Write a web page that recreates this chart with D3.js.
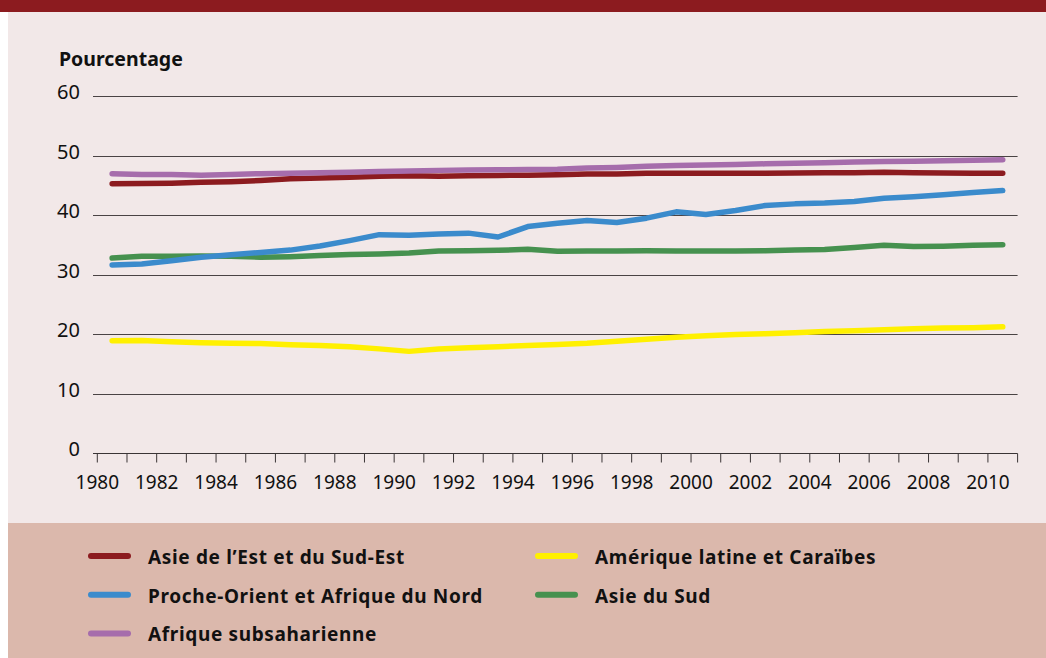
<!DOCTYPE html>
<html>
<head>
<meta charset="utf-8">
<script src="https://cdn.jsdelivr.net/npm/d3@7"></script>
<style>
  html, body { margin: 0; padding: 0; background: #ffffff; }
  svg { display: block; }
</style>
</head>
<body>
<svg id="chart"></svg>
<script>
const years = d3.range(1980, 2011);
const yTicks = [0, 10, 20, 30, 40, 50, 60];

const eastAsia = [45.26, 45.3, 45.35, 45.5, 45.6, 45.8, 46.1, 46.2, 46.35, 46.5, 46.6, 46.5, 46.6, 46.65, 46.7, 46.75,
  46.9, 46.9, 47.0, 47.0, 47.0, 47.0, 47.0, 47.05, 47.1, 47.1, 47.2, 47.1, 47.05, 47.0, 47.0];
const nearEast = [31.6, 31.77, 32.3, 32.9, 33.3, 33.7, 34.1, 34.8, 35.7, 36.7, 36.6, 36.8, 36.95, 36.3, 38.06, 38.6,
  39.07, 38.74, 39.47, 40.53, 40.08, 40.75, 41.6, 41.87, 42.0, 42.27, 42.8, 43.05, 43.4, 43.8, 44.1];
const subSahara = [46.95, 46.8, 46.8, 46.7, 46.8, 46.95, 47.0, 47.1, 47.2, 47.3, 47.4, 47.5, 47.55, 47.6, 47.65, 47.7,
  47.9, 48.0, 48.2, 48.3, 48.4, 48.5, 48.6, 48.7, 48.8, 48.9, 49.0, 49.05, 49.1, 49.2, 49.3];
const latinAm = [18.88, 18.9, 18.7, 18.55, 18.44, 18.4, 18.2, 18.05, 17.87, 17.5, 17.08, 17.48, 17.7, 17.87, 18.05, 18.25,
  18.44, 18.77, 19.1, 19.44, 19.7, 19.9, 20.06, 20.2, 20.4, 20.55, 20.7, 20.9, 21.0, 21.05, 21.2];
const southAsia = [32.77, 33.05, 33.05, 33.1, 33.05, 32.9, 33.0, 33.2, 33.35, 33.45, 33.6, 33.95, 33.98, 34.07, 34.24, 33.9,
  33.95, 33.95, 34.0, 33.95, 33.95, 33.95, 34.0, 34.1, 34.2, 34.55, 34.9, 34.7, 34.75, 34.9, 35.0];

const series = [
  { name: "Asie de l\u2019Est et du Sud-Est", values: eastAsia, color: "#8c1b1f" },
  { name: "Proche-Orient et Afrique du Nord", values: nearEast, color: "#3b8bcc" },
  { name: "Afrique subsaharienne", values: subSahara, color: "#a66dac" },
  { name: "Am\u00e9rique latine et Cara\u00efbes", values: latinAm, color: "#fff000" },
  { name: "Asie du Sud", values: southAsia, color: "#46914f" },
];
// draw order: bottom lines first
const drawOrder = [3, 4, 1, 0, 2];

const dims = {
  width: 1046,
  height: 658,
  plot: { left: 97.3, right: 1017.6, top: 96, bottom: 453, gridLeft: 93 },
  legend: { top: 523, rowH: 38.7, firstRow: 556, col1: 88, col2: 535, swatch: 43, textGap: 17 },
};
const font = "'Noto Sans', sans-serif";

const svg = d3.select("#chart")
  .attr("width", dims.width)
  .attr("height", dims.height)
  .attr("viewBox", [0, 0, dims.width, dims.height]);

// backgrounds
svg.append("rect").attr("x", 0).attr("y", 0).attr("width", dims.width).attr("height", 12).attr("fill", "#8c1b1f");
svg.append("rect").attr("x", 8).attr("y", 12).attr("width", dims.width - 8).attr("height", dims.legend.top - 12).attr("fill", "#f2e8e8");
svg.append("rect").attr("x", 8).attr("y", dims.legend.top).attr("width", dims.width - 8).attr("height", dims.height - dims.legend.top).attr("fill", "#dbb8ac");

const xScale = d3.scaleBand()
  .domain(years)
  .range([dims.plot.left, dims.plot.right]);

const yScale = d3.scaleLinear()
  .domain([0, 60])
  .range([dims.plot.bottom, dims.plot.top]);

// grid lines
svg.append("g")
  .selectAll("line")
  .data(yTicks.filter(d => d > 0))
  .enter()
  .append("line")
  .attr("x1", dims.plot.gridLeft)
  .attr("x2", dims.plot.right)
  .attr("y1", d => Math.round(yScale(d)) + 0.5)
  .attr("y2", d => Math.round(yScale(d)) + 0.5)
  .attr("stroke", "#4a4344")
  .attr("stroke-width", 1);

// y labels
svg.append("g")
  .selectAll("text")
  .data(yTicks)
  .enter()
  .append("text")
  .attr("x", 80)
  .attr("y", d => yScale(d) + 3)
  .attr("text-anchor", "end")
  .attr("font-family", font)
  .attr("font-size", 20)
  .attr("fill", "#111")
  .text(d => d);

svg.append("text")
  .attr("x", 59)
  .attr("y", 66)
  .attr("font-family", font)
  .attr("font-weight", "bold")
  .attr("font-size", 19.5)
  .attr("fill", "#111")
  .text("Pourcentage");

// x axis
const xAxisG = svg.append("g")
  .attr("transform", `translate(0,${Math.round(dims.plot.bottom) + 0.5})`);

xAxisG.append("line")
  .attr("x1", dims.plot.gridLeft)
  .attr("x2", dims.plot.right)
  .attr("stroke", "#3a3435");

const tickPos = years.map(y => xScale(y)).concat([dims.plot.right]);
xAxisG.selectAll("line.tick")
  .data(tickPos)
  .enter()
  .append("line")
  .attr("class", "tick")
  .attr("x1", d => d)
  .attr("x2", d => d)
  .attr("y1", 0)
  .attr("y2", 9)
  .attr("stroke", "#3a3435");

xAxisG.selectAll("text")
  .data(years.filter(y => y % 2 === 0))
  .enter()
  .append("text")
  .attr("x", d => xScale(d))
  .attr("y", 35)
  .attr("text-anchor", "middle")
  .attr("font-family", font)
  .attr("font-size", 19)
  .attr("fill", "#111")
  .text(d => d);

// lines
const line = d3.line()
  .x((d, i) => xScale(years[i]) + xScale.bandwidth() / 2)
  .y(d => yScale(d));

svg.append("g")
  .selectAll("path")
  .data(drawOrder.map(i => series[i]))
  .enter()
  .append("path")
  .attr("d", d => line(d.values))
  .attr("fill", "none")
  .attr("stroke", d => d.color)
  .attr("stroke-width", 5.5)
  .attr("stroke-linejoin", "round")
  .attr("stroke-linecap", "round");

// legend
const legendPos = [
  { col: dims.legend.col1, row: 0 },
  { col: dims.legend.col1, row: 1 },
  { col: dims.legend.col1, row: 2 },
  { col: dims.legend.col2, row: 0 },
  { col: dims.legend.col2, row: 1 },
];

const legend = svg.append("g")
  .selectAll("g")
  .data(series)
  .enter()
  .append("g")
  .attr("transform", (d, i) => `translate(${legendPos[i].col},${dims.legend.firstRow + legendPos[i].row * dims.legend.rowH})`);

legend.append("line")
  .attr("x1", 3)
  .attr("x2", dims.legend.swatch - 3)
  .attr("stroke", d => d.color)
  .attr("stroke-width", 6)
  .attr("stroke-linecap", "round");

legend.append("text")
  .attr("x", dims.legend.swatch + dims.legend.textGap)
  .attr("y", 8)
  .attr("font-family", font)
  .attr("font-weight", "bold")
  .attr("font-size", 19)
  .attr("letter-spacing", 0.65)
  .attr("fill", "#111")
  .text(d => d.name);
</script>
</body>
</html>
